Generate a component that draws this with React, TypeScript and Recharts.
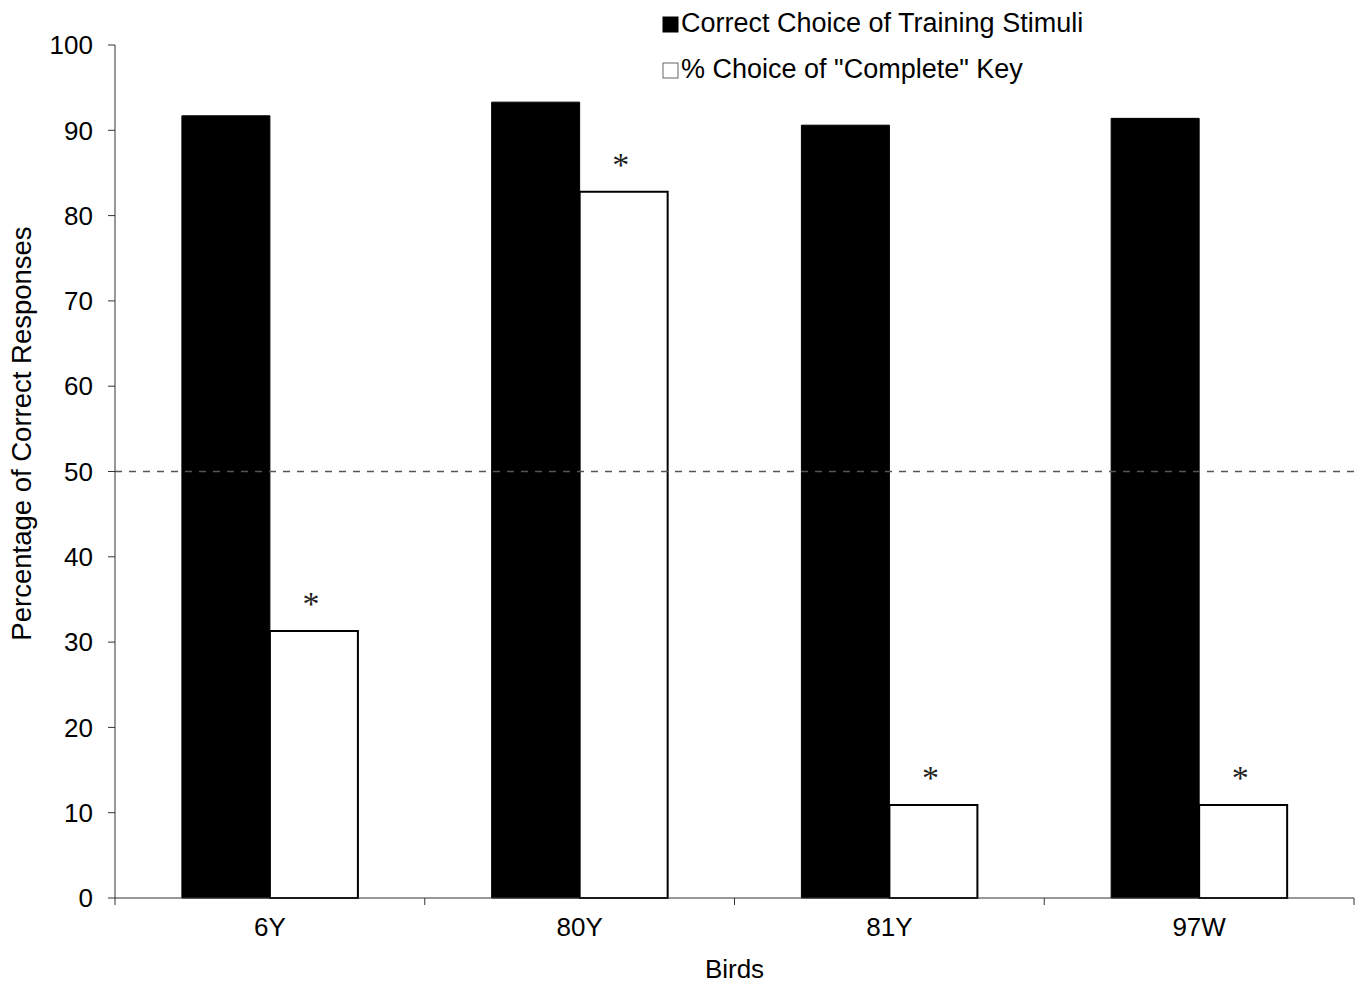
import React from "react";
import { BarChart, Bar, XAxis, YAxis, ReferenceLine, LabelList } from "recharts";

const birds = ["6Y", "80Y", "81Y", "97W"];
const correctChoice = [91.7, 93.3, 90.6, 91.4];
const completeChoice = [31.3, 82.8, 10.9, 10.9];
const completeMarks = ["*", "*", "*", "*"];
const yTicks = [0, 10, 20, 30, 40, 50, 60, 70, 80, 90, 100];
const seriesNames = ["Correct Choice of Training Stimuli", '% Choice of "Complete" Key'];
const seriesFills = ["#000", "#fff"];

const data = birds.map((b, i) => ({
  bird: b,
  correct: correctChoice[i],
  complete: completeChoice[i],
  mark: completeMarks[i],
}));

const FONT = "'Liberation Sans', Arial, Helvetica, sans-serif";
const CHART_W = 1360;
const CHART_H = 985;
const Y_W = 115;
const RIGHT = 6;
const BAND = (CHART_W - Y_W - RIGHT) / birds.length;

const LegendBox = () => (
  <svg
    width={460}
    height={95}
    style={{ position: "absolute", left: 640, top: 0, display: "block" }}
  >
    {seriesNames.map((name, i) => {
      const baseY = 32 + i * 46;
      const black = seriesFills[i] === "#000";
      return (
        <g key={name}>
          <rect
            x={23}
            y={baseY - 15}
            width={15}
            height={15}
            fill={seriesFills[i]}
            stroke={black ? "#000" : "#666"}
            strokeWidth={1}
          />
          <text x={41} y={baseY} fontFamily={FONT} fontSize={27} fill="#000">
            {name}
          </text>
        </g>
      );
    })}
  </svg>
);

const Star = (props: any) => {
  const { x, y, width, value } = props;
  return (
    <text
      x={x + width / 2 - 3}
      y={y - 16}
      textAnchor="middle"
      fontFamily="'Liberation Serif', 'Times New Roman', serif"
      fontSize={34}
      fill="#222"
    >
      {value}
    </text>
  );
};

const BirdTick = (props: any) => {
  const { x, y, payload, index } = props;
  const axisY = y - 19;
  const left = x - BAND / 2;
  const right = x + BAND / 2;
  return (
    <g>
      <line x1={left} y1={axisY} x2={left} y2={axisY + 7} stroke="#333" strokeWidth={1} />
      {index === birds.length - 1 && (
        <line x1={right} y1={axisY} x2={right} y2={axisY + 7} stroke="#333" strokeWidth={1} />
      )}
      <text
        x={x}
        y={axisY + 38}
        textAnchor="middle"
        fontFamily={FONT}
        fontSize={26}
        fill="#000"
      >
        {payload.value}
      </text>
    </g>
  );
};

export default function App() {
  return (
    <div style={{ width: CHART_W, height: CHART_H, background: "#fff", position: "relative" }}>
      <style>{`body{margin:0;background:#fff}`}</style>
      <BarChart
        width={CHART_W}
        height={CHART_H}
        data={data}
        margin={{ top: 45, right: RIGHT, bottom: 0, left: 0 }}
        barGap={0}
        barCategoryGap="21.6%"
      >
        <XAxis
          dataKey="bird"
          height={87}
          tickLine={false}
          tickSize={7}
          tickMargin={12}
          stroke="#333"
          interval={0}
          tick={<BirdTick />}
          label={(lp: any) => {
            const vb = lp.viewBox;
            return (
              <text
                x={vb.x + vb.width / 2}
                y={vb.y + 80}
                textAnchor="middle"
                fontFamily={FONT}
                fontSize={26}
                fill="#000"
              >
                Birds
              </text>
            );
          }}
        />
        <YAxis
          width={Y_W}
          domain={[0, 100]}
          ticks={yTicks}
          interval={0}
          tickSize={7}
          tickMargin={15}
          stroke="#333"
          tick={{ fill: "#000", fontSize: 26, fontFamily: FONT }}
          label={(lp: any) => {
            const vb = lp.viewBox;
            const cx = 31;
            const cy = vb.y + vb.height / 2 - 38;
            return (
              <text
                x={cx}
                y={cy}
                transform={`rotate(-90 ${cx} ${cy})`}
                textAnchor="middle"
                fontFamily={FONT}
                fontSize={27.5}
                fill="#000"
              >
                Percentage of Correct Responses
              </text>
            );
          }}
        />
        <ReferenceLine y={50} stroke="#555" strokeWidth={1.5} strokeDasharray="7 7" />
        <Bar
          dataKey="correct"
          name={seriesNames[0]}
          fill={seriesFills[0]}
          stroke="#000"
          isAnimationActive={false}
        />
        <Bar
          dataKey="complete"
          name={seriesNames[1]}
          fill={seriesFills[1]}
          stroke="#000"
          strokeWidth={2}
          isAnimationActive={false}
        >
          <LabelList dataKey="mark" content={<Star />} />
        </Bar>
      </BarChart>
      <LegendBox />
    </div>
  );
}
